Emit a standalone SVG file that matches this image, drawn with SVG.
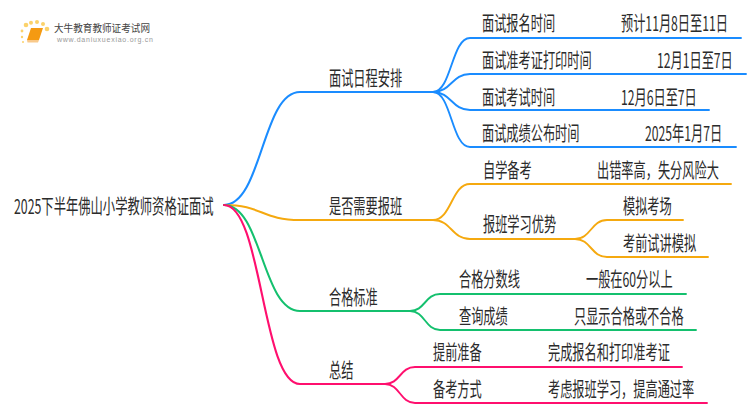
<svg xmlns="http://www.w3.org/2000/svg" width="750" height="410" viewBox="0 0 750 410">
<style>
text{font-family:"Noto Sans CJK SC","Liberation Sans",sans-serif;font-size:20px;fill:#2b2b2b}
.c{fill:none;stroke-linecap:round}
.t1{stroke-width:2.1}.t2{stroke-width:1.9}
.b{stroke:#1a8cff}.o{stroke:#f5a90f}.g{stroke:#14c06e}.p{stroke:#ff0f6e}
</style>
<rect width="750" height="410" fill="#ffffff"/>
<g id="logo">
<g fill="#fbd26b"><circle cx="26" cy="25" r="2.300"/><circle cx="31" cy="22.700" r="2"/><circle cx="37" cy="22" r="2"/><circle cx="43" cy="24" r="2"/><circle cx="47" cy="29" r="2.300"/><circle cx="22" cy="31" r="1.400"/><circle cx="22" cy="37" r="1.200"/><circle cx="23" cy="42" r="1"/></g>
<path d="M31 28H43L39 40H27Z" fill="#f59a12"/><path d="M27 40H39L38 42.500H27.500Z" fill="#f9c98a"/>
<text x="54" y="31.500" textLength="96" lengthAdjust="spacingAndGlyphs" style="font-size:10.500px;fill:#444">大牛教育教师证考试网</text>
<text x="57" y="41.500" style="font-size:7px;letter-spacing:.75px;fill:#999;font-family:'Liberation Sans',sans-serif">www.daniuxuexiao.org.cn</text>
</g>
<g id="connectors">
<path class="c t1 b" d="M224 205C262 205 262 92 300 92H433"/>
<path class="c t1 o" d="M224 205C262 205 262 220 300 220H433"/>
<path class="c t1 g" d="M224 205C262 205 262 311 300 311H410"/>
<path class="c t1 p" d="M224 205C262 205 262 384 300 384H385"/>
<path class="c t2 b" d="M433 92C451.500 92 451.500 38 470 38H741"/>
<path class="c t2 b" d="M433 92C451.500 92 451.500 74 470 74H746"/>
<path class="c t2 b" d="M433 92C451.500 92 451.500 110 470 110H709"/>
<path class="c t2 b" d="M433 92C451.500 92 451.500 147 470 147H736"/>
<path class="c t2 o" d="M433 220C451.500 220 451.500 184 470 184H731"/>
<path class="c t2 o" d="M433 220C451.500 220 451.500 239 470 239H575"/>
<path class="c t2 o" d="M575 239C591 239 591 220 607 220H683"/>
<path class="c t2 o" d="M575 239C591 239 591 257 607 257H708"/>
<path class="c t2 g" d="M410 311C425 311 425 294 440 294H686"/>
<path class="c t2 g" d="M410 311C425 311 425 330 440 330H696"/>
<path class="c t2 p" d="M385 384C400 384 400 367 415 367H682"/>
<path class="c t2 p" d="M385 384C400 384 400 403 415 403H707"/>
</g>
<g id="root"><text transform="translate(14 214) scale(.616 1)">2025下半年佛山小学教师资格证面试</text></g>
<g id="n1"><text transform="translate(329 86) scale(.61 1)">面试日程安排</text></g>
<g id="n1a"><text transform="translate(482 31) scale(.61 1)">面试报名时间</text><text transform="translate(621 31) scale(.61 1)">预计11月8日至11日</text></g>
<g id="n1b"><text transform="translate(482 68) scale(.61 1)">面试准考证打印时间</text><text transform="translate(657 68) scale(.61 1)">12月1日至7日</text></g>
<g id="n1c"><text transform="translate(482 105) scale(.61 1)">面试考试时间</text><text transform="translate(621 105) scale(.61 1)">12月6日至7日</text></g>
<g id="n1d"><text transform="translate(482 141) scale(.61 1)">面试成绩公布时间</text><text transform="translate(645 141) scale(.61 1)">2025年1月7日</text></g>
<g id="n2"><text transform="translate(329 214) scale(.61 1)">是否需要报班</text></g>
<g id="n2a"><text transform="translate(483 178) scale(.61 1)">自学备考</text><text transform="translate(597 178) scale(.61 1)">出错率高，失分风险大</text></g>
<g id="n2b"><text transform="translate(483 232) scale(.61 1)">报班学习优势</text></g>
<g id="n2b1"><text transform="translate(623 214) scale(.61 1)">模拟考场</text></g>
<g id="n2b2"><text transform="translate(623 251) scale(.61 1)">考前试讲模拟</text></g>
<g id="n3"><text transform="translate(329 305) scale(.61 1)">合格标准</text></g>
<g id="n3a"><text transform="translate(459 287) scale(.61 1)">合格分数线</text><text transform="translate(586 287) scale(.61 1)">一般在60分以上</text></g>
<g id="n3b"><text transform="translate(459 324) scale(.61 1)">查询成绩</text><text transform="translate(574 324) scale(.61 1)">只显示合格或不合格</text></g>
<g id="n4"><text transform="translate(329 378) scale(.61 1)">总结</text></g>
<g id="n4a"><text transform="translate(433 360) scale(.61 1)">提前准备</text><text transform="translate(548 360) scale(.61 1)">完成报名和打印准考证</text></g>
<g id="n4b"><text transform="translate(433 397) scale(.61 1)">备考方式</text><text transform="translate(548 397) scale(.61 1)">考虑报班学习，提高通过率</text></g>
</svg>
